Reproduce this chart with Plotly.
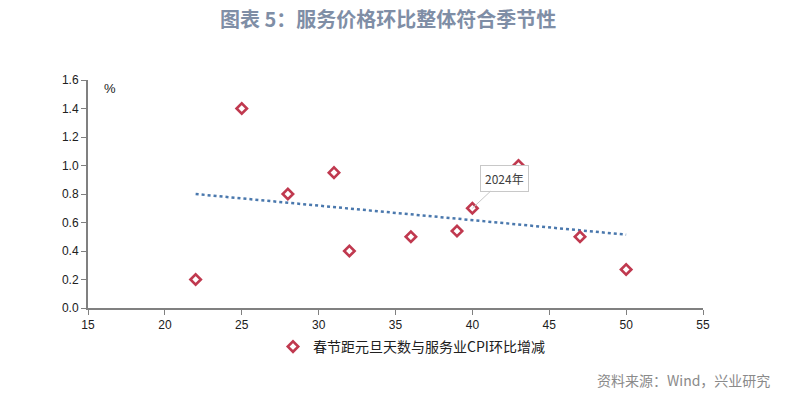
import numpy as np
import plotly.graph_objects as go

days = [22, 25, 28, 31, 32, 36, 39, 40, 43, 47, 50]
cpi_mom = [0.2, 1.4, 0.8, 0.95, 0.4, 0.5, 0.54, 0.7, 1.0, 0.5, 0.27]
series_name = "春节距元旦天数与服务业CPI环比增减"
title = "图表 5：服务价格环比整体符合季节性"
source = "资料来源：Wind，兴业研究"
x_ticks = [15, 20, 25, 30, 35, 40, 45, 50, 55]
y_ticks = [0.0, 0.2, 0.4, 0.6, 0.8, 1.0, 1.2, 1.4, 1.6]

slope, intercept = np.polyfit(days, cpi_mom, 1)
tx = [min(days), max(days)]
ty = [slope * v + intercept for v in tx]

fig = go.Figure()
fig.add_trace(go.Scatter(x=tx, y=ty, mode="lines", showlegend=False,
                         line=dict(color="#4a78ad", width=2.5, dash="dot"), hoverinfo="skip"))
fig.add_trace(go.Scatter(x=days, y=cpi_mom, mode="markers", name=series_name,
                         marker=dict(symbol="diamond", size=8, color="white",
                                     line=dict(color="#c0394f", width=2.6))))

fig.add_annotation(x=40, y=0.7, text="2024年", showarrow=True, ax=32, ay=-30,
                   arrowhead=0, arrowcolor="#c8c8c8", arrowwidth=1,
                   bordercolor="#c8c8c8", borderwidth=1, borderpad=4, bgcolor="white",
                   font=dict(family="Noto Sans CJK SC", size=12, color="#404040"))
fig.add_annotation(x=0.023, y=1.005, xref="paper", yref="paper", text="%", showarrow=False,
                   font=dict(family="Liberation Sans", size=13, color="#202020"))
fig.add_annotation(x=(388 - 88) / 615, y=1 + (308 - 228 - 19) / 228, xref="paper", yref="paper",
                   xanchor="center", yanchor="middle", text="<b>" + title + "</b>", showarrow=False,
                   font=dict(family="Noto Sans CJK SC", size=20, color="#7f8ea6"))

fig.update_layout(
    width=790, height=397,
    margin=dict(l=80, r=95, t=72, b=97, autoexpand=False),
    paper_bgcolor="white", plot_bgcolor="white",
    xaxis=dict(range=[15, 55], tickvals=x_ticks, showgrid=False, zeroline=False,
               showline=True, linecolor="#808080", linewidth=2, ticks="outside", ticklen=5,
               tickcolor="#808080", tickfont=dict(family="Liberation Sans", size=12, color="#202020")),
    yaxis=dict(range=[0, 1.6], tickvals=y_ticks, tickformat=".1f", showgrid=False, zeroline=False,
               showline=True, linecolor="#808080", linewidth=2, ticks="outside", ticklen=5,
               tickcolor="#808080", tickfont=dict(family="Liberation Sans", size=12, color="#202020")),
    legend=dict(orientation="h", x=(288 - 15 - 88) / 615, xanchor="left", y=-0.171, yanchor="middle",
                font=dict(family="Noto Sans CJK SC", size=14, color="#202020")),
)
fig.add_annotation(x=(772 - 88) / 615, y=-(380 - 308) / 228, xref="paper", yref="paper",
                   xanchor="right", yanchor="middle",
                   text=source, showarrow=False,
                   font=dict(family="Noto Sans CJK SC", size=14, color="#8a8a8a"))

fig.write_html("out.html")
